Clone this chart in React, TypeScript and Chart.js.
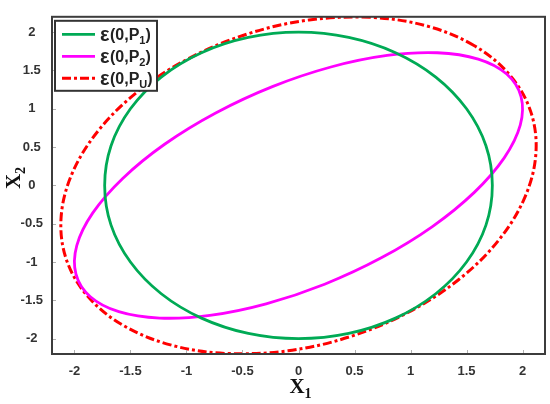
import React, { useEffect, useRef } from "react";
import { Chart, registerables } from "chart.js";

Chart.register(...registerables);

// ---- data ----
const seriesNames = ["ε(0,P₁)", "ε(0,P₂)", "ε(0,P_U)"];
const seriesSubs = ["1", "2", "U"];
const seriesColors = ["rgb(0,170,85)", "rgb(255,0,255)", "rgb(255,0,0)"];
const xTickValues = [-2, -1.5, -1, -0.5, 0, 0.5, 1, 1.5, 2];
const yTickValues = [-2, -1.5, -1, -0.5, 0, 0.5, 1, 1.5, 2];
const axisRange = [-2.2, 2.2];

// ε(0,P1) boundary points (closed curve)
const p1Points: [number, number][] = [
  [1.73, 0], [1.673, 0.518], [1.5, 1.0], [1.225, 1.414], [0.866, 1.732], [0.448, 1.932],
  [0, 2], [-0.448, 1.932], [-0.866, 1.732], [-1.225, 1.414], [-1.5, 1.0], [-1.673, 0.518],
  [-1.73, 0], [-1.673, -0.518], [-1.5, -1.0], [-1.225, -1.414], [-0.866, -1.732], [-0.448, -1.932],
  [0, -2], [0.448, -1.932], [0.866, -1.732], [1.225, -1.414], [1.5, -1.0], [1.673, -0.518],
];

// ε(0,P2) boundary points (closed curve)
const p2Points: [number, number][] = [
  [1.858, 1.453], [1.604, 1.648], [1.239, 1.731], [0.791, 1.696], [0.289, 1.545], [-0.233, 1.289],
  [-0.739, 0.945], [-1.195, 0.537], [-1.569, 0.091], [-1.836, -0.359], [-1.979, -0.785], [-1.986, -1.158],
  [-1.858, -1.453], [-1.604, -1.648], [-1.239, -1.731], [-0.791, -1.696], [-0.289, -1.545], [0.233, -1.289],
  [0.739, -0.945], [1.195, -0.537], [1.569, -0.091], [1.836, 0.359], [1.979, 0.785], [1.986, 1.158],
];

// ε(0,PU) boundary points (closed curve)
const pUPoints: [number, number][] = [
  [1.566, 1.825], [1.143, 2.081], [0.64, 2.194], [0.095, 2.159], [-0.456, 1.976], [-0.977, 1.658],
  [-1.431, 1.228], [-1.787, 0.714], [-2.022, 0.15], [-2.119, -0.422], [-2.072, -0.966], [-1.883, -1.445],
  [-1.566, -1.825], [-1.143, -2.081], [-0.64, -2.194], [-0.095, -2.159], [0.456, -1.976], [0.977, -1.658],
  [1.431, -1.228], [1.787, -0.714], [2.022, -0.15], [2.119, 0.422], [2.072, 0.966], [1.883, 1.445],
];

const seriesPoints = [p1Points, p2Points, pUPoints];
const seriesWidths = [2.8, 2.8, 3];
const seriesDashes: number[][] = [[], [], [9, 3, 3, 3]];

const framePlugin = {
  id: "frame",
  afterDraw(chart: any) {
    const { ctx, chartArea: a, scales } = chart;
    const xs = scales.x;
    const ys = scales.y;
    ctx.save();
    // inward tick marks
    ctx.strokeStyle = "#b0b0b0";
    ctx.lineWidth = 1;
    ctx.setLineDash([]);
    xTickValues.forEach((v) => {
      const px = Math.round(xs.getPixelForValue(v)) + 0.5;
      ctx.beginPath();
      ctx.moveTo(px, a.bottom);
      ctx.lineTo(px, a.bottom - 4);
      ctx.stroke();
    });
    yTickValues.forEach((v) => {
      const py = Math.round(ys.getPixelForValue(v)) + 0.5;
      ctx.beginPath();
      ctx.moveTo(a.left, py);
      ctx.lineTo(a.left + 4, py);
      ctx.stroke();
    });
    // frame
    ctx.strokeStyle = "#3c3c3c";
    ctx.lineWidth = 2;
    ctx.strokeRect(a.left, a.top, a.right - a.left, a.bottom - a.top);

    // legend
    const bx = a.left + 3;
    const by = a.top + 4;
    ctx.fillStyle = "#ffffff";
    ctx.fillRect(bx, by, 102, 70);
    ctx.strokeStyle = "#333";
    ctx.lineWidth = 2;
    ctx.strokeRect(bx, by, 102, 70);
    chart.data.datasets.forEach((ds: any, i: number) => {
      const cy = by + 13.5 + 22 * i;
      ctx.save();
      ctx.strokeStyle = ds.borderColor;
      ctx.lineWidth = ds.borderWidth;
      ctx.setLineDash(ds.borderDash || []);
      ctx.beginPath();
      ctx.moveTo(bx + 7, cy);
      ctx.lineTo(bx + 40, cy);
      ctx.stroke();
      ctx.restore();
      ctx.fillStyle = "#222";
      ctx.textBaseline = "alphabetic";
      let tx = bx + 45;
      const base = cy + 6;
      ctx.font = 'bold 20px "Liberation Sans", Arial, sans-serif';
      ctx.fillText("ε", tx, base + 0.5);
      tx += ctx.measureText("ε").width + 0.5;
      ctx.font = 'bold 16px "Liberation Sans", Arial, sans-serif';
      ctx.fillText("(0,P", tx, base);
      tx += ctx.measureText("(0,P").width;
      ctx.font = 'bold 11px "Liberation Sans", Arial, sans-serif';
      ctx.fillText(seriesSubs[i], tx, base + 4);
      tx += ctx.measureText(seriesSubs[i]).width;
      ctx.font = 'bold 16px "Liberation Sans", Arial, sans-serif';
      ctx.fillText(")", tx, base);
    });

    // axis titles
    ctx.fillStyle = "#111";
    const drawTitle = (sub: string) => {
      ctx.font = 'bold 21px "Liberation Serif", "Times New Roman", serif';
      const wX = ctx.measureText("X").width;
      ctx.font = 'bold 14px "Liberation Serif", "Times New Roman", serif';
      const wS = ctx.measureText(sub).width;
      const start = -(wX + wS) / 2;
      ctx.font = 'bold 21px "Liberation Serif", "Times New Roman", serif';
      ctx.fillText("X", start, 0);
      ctx.font = 'bold 14px "Liberation Serif", "Times New Roman", serif';
      ctx.fillText(sub, start + wX, 5);
    };
    ctx.save();
    ctx.translate((a.left + a.right) / 2 + 2, 393);
    drawTitle("1");
    ctx.restore();
    ctx.save();
    ctx.translate(20, 178);
    ctx.rotate(-Math.PI / 2);
    drawTitle("2");
    ctx.restore();
    ctx.restore();
  },
};

export default function App() {
  const ref = useRef<HTMLCanvasElement>(null);
  useEffect(() => {
    const tickFont = { family: '"Liberation Sans", Arial, sans-serif', size: 13, weight: "bold" as const };
    const fmt = (v: any) => String(Math.round(Number(v) * 10) / 10);
    const chart = new Chart(ref.current!, {
      type: "scatter",
      data: {
        datasets: seriesPoints.map((pts, i) => {
          const n = pts.length;
          // wrap the closed curve so the spline stays smooth at the seam
          const wrapped = [pts[n - 1], ...pts, pts[0], pts[1]];
          return {
            label: seriesNames[i],
            data: wrapped.map(([x, y]) => ({ x, y })),
            showLine: true,
            borderColor: seriesColors[i],
            backgroundColor: seriesColors[i],
            borderWidth: seriesWidths[i],
            borderDash: seriesDashes[i],
            pointRadius: 0,
            tension: 0.35,
            fill: false,
            segment: {
              borderColor: (c: any) =>
                c.p0DataIndex === 0 || c.p0DataIndex >= n + 1 ? "rgba(0,0,0,0)" : undefined,
            },
          };
        }),
      },
      options: {
        responsive: false,
        animation: false,
        layout: { padding: { top: 6, right: 5, left: 0, bottom: 0 } },
        plugins: { legend: { display: false }, tooltip: { enabled: false } },
        scales: {
          x: {
            type: "linear",
            min: axisRange[0],
            max: axisRange[1],
            grid: { display: false, drawTicks: false },
            border: { display: false },
            afterBuildTicks: (s: any) => {
              s.ticks = xTickValues.map((v) => ({ value: v }));
            },
            afterFit: (s: any) => {
              s.height = 50;
            },
            ticks: { padding: 10, font: tickFont, color: "#333", callback: fmt, maxRotation: 0, autoSkip: false },
          },
          y: {
            type: "linear",
            min: axisRange[0],
            max: axisRange[1],
            grid: { display: false, drawTicks: false },
            border: { display: false },
            afterBuildTicks: (s: any) => {
              s.ticks = yTickValues.map((v) => ({ value: v }));
            },
            afterFit: (s: any) => {
              s.width = 52;
            },
            ticks: { padding: 9, crossAlign: "center", font: tickFont, color: "#333", callback: fmt, autoSkip: false },
          },
        },
      },
      plugins: [framePlugin],
    });
    return () => chart.destroy();
  }, []);
  return (
    <div style={{ position: "absolute", left: 0, top: 0, width: 550, height: 404, background: "#fff" }}>
      <canvas ref={ref} width={550} height={404} />
    </div>
  );
}
